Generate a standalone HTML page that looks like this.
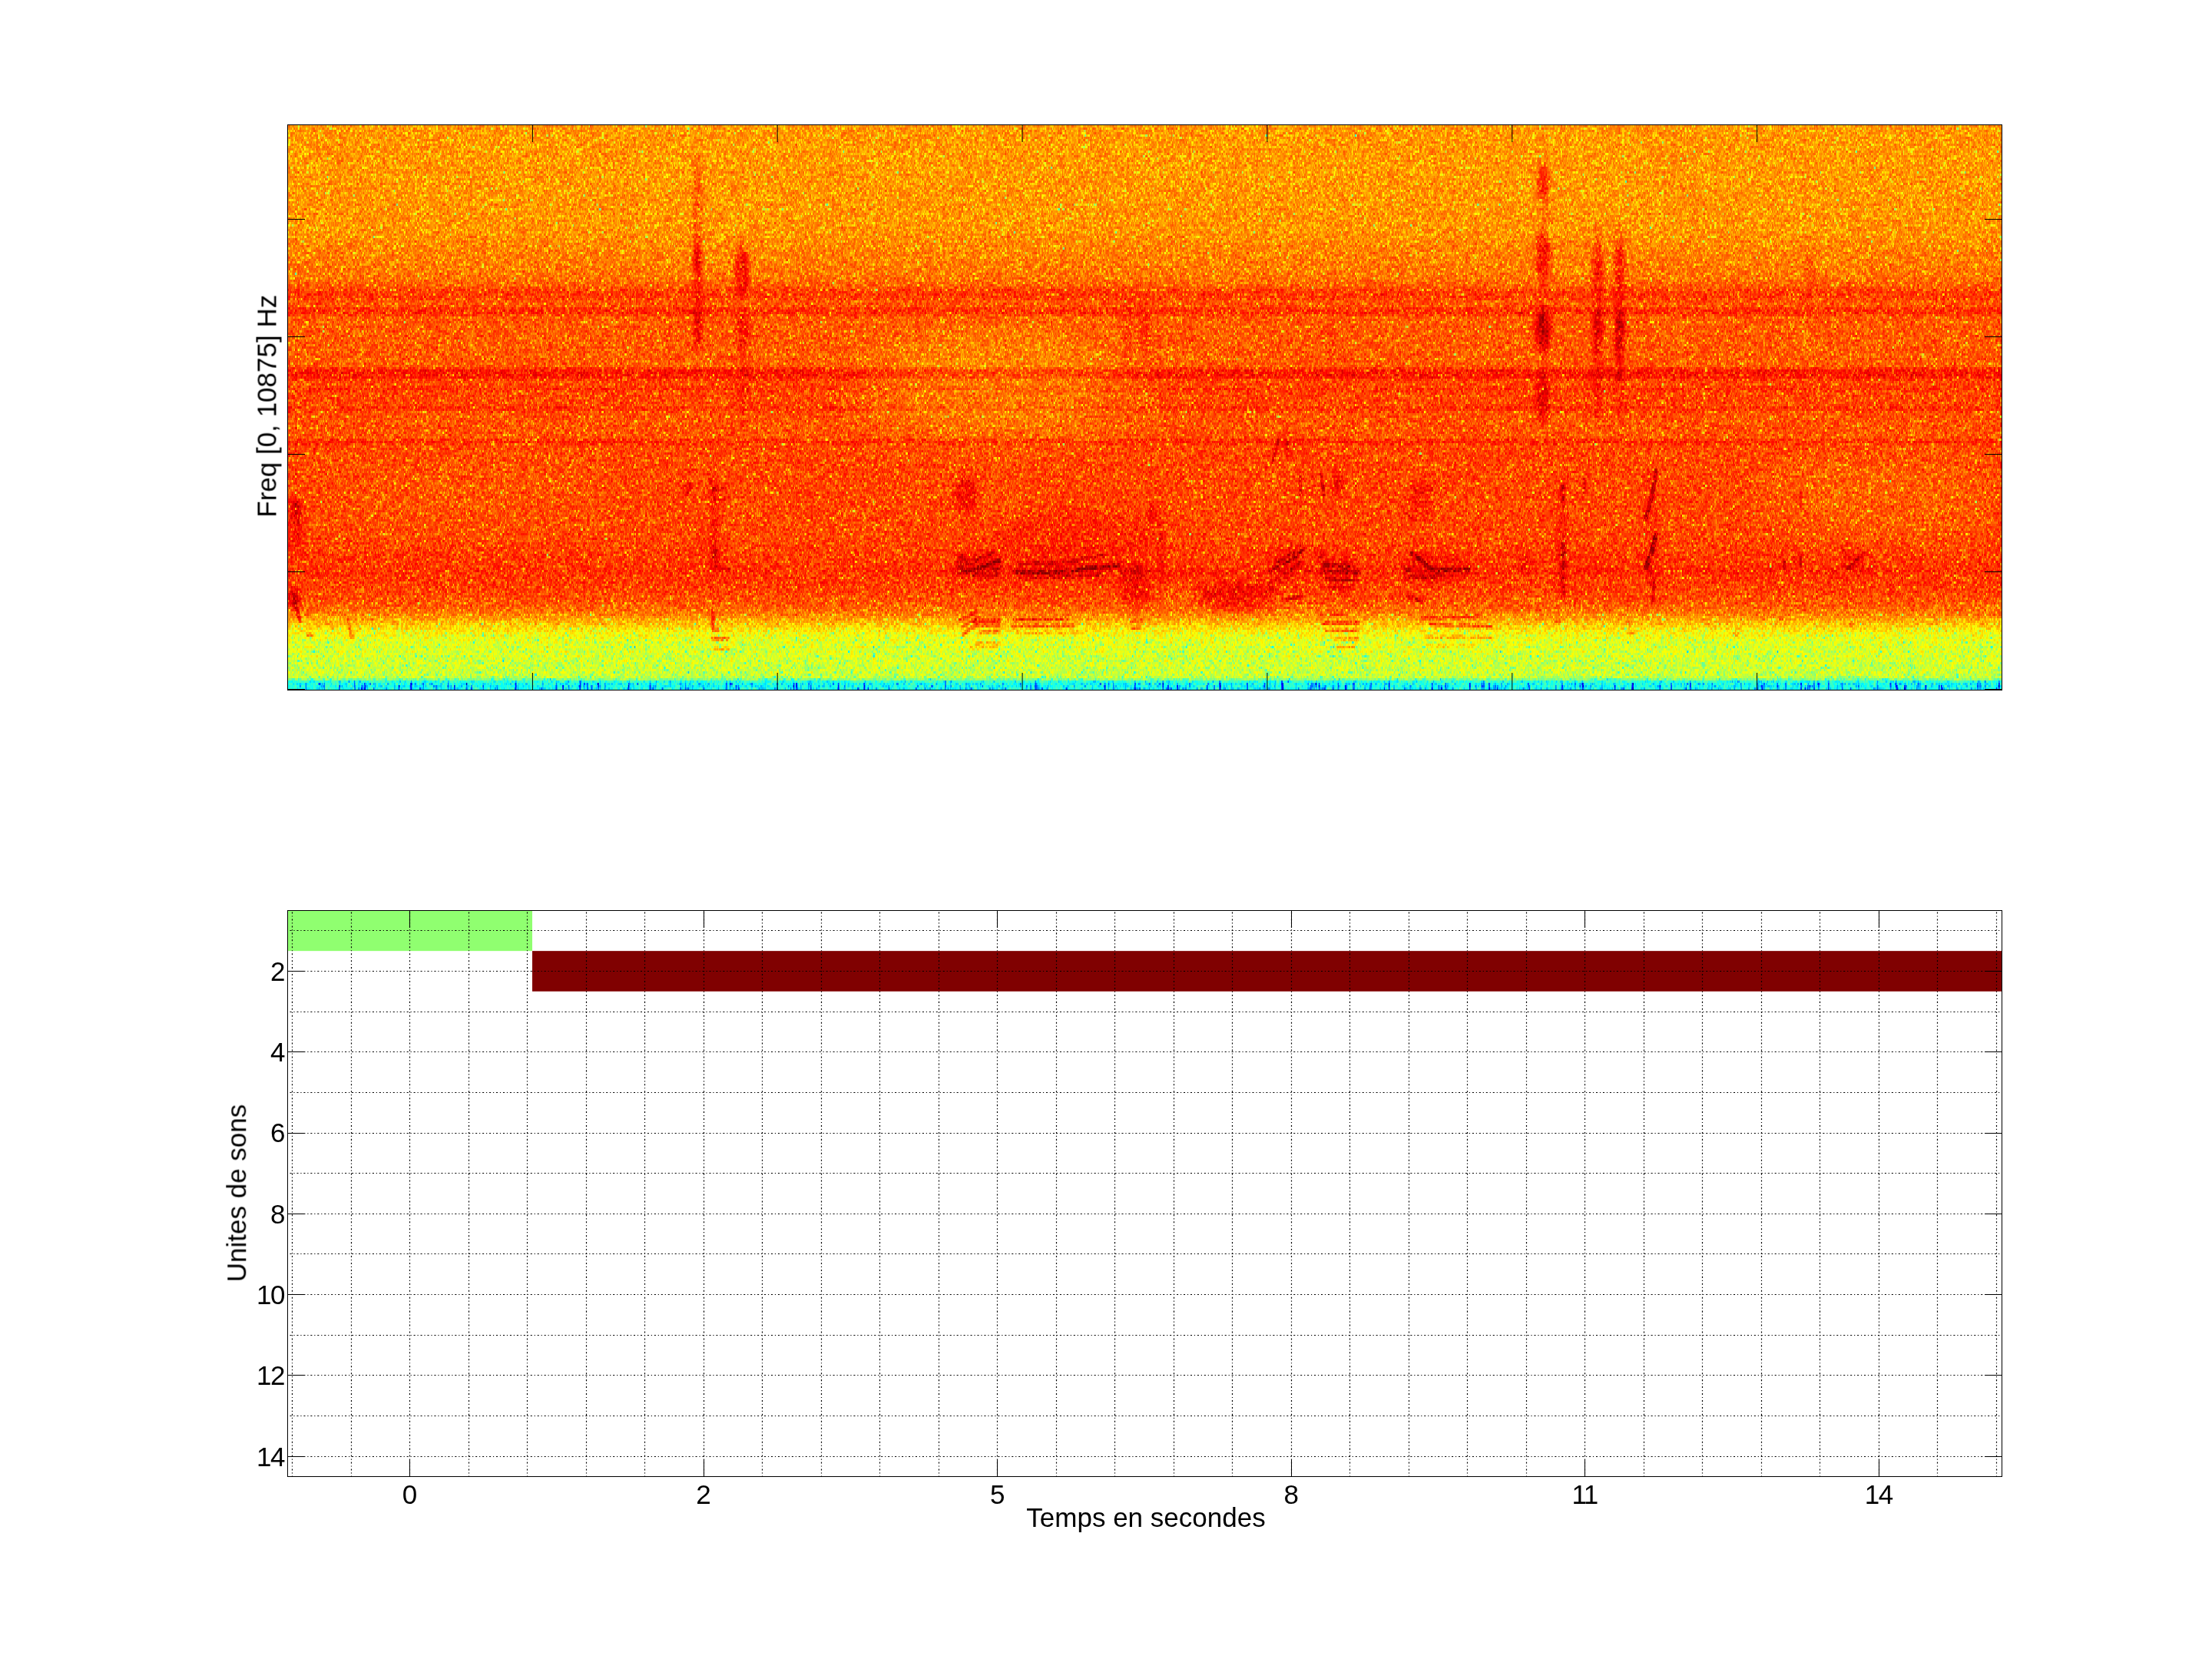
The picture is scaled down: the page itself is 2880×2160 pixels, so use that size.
<!DOCTYPE html>
<html><head><meta charset="utf-8"><title>spectrogram</title>
<style>html,body{margin:0;padding:0;background:#fff;}body{width:2880px;height:2160px;overflow:hidden;position:relative;font-family:"Liberation Sans",sans-serif;}svg{position:absolute;left:0;top:0;display:block;}text{font-family:"Liberation Sans",sans-serif;fill:#000;}.tx{opacity:0.999;}</style>
</head><body>
<svg width="2880" height="2160" viewBox="0 0 2880 2160">
<defs>
<linearGradient id="vg" gradientUnits="userSpaceOnUse" x1="0" y1="0" x2="0" y2="1">
</linearGradient>
<linearGradient id="vprof" gradientUnits="userSpaceOnUse" x1="0" y1="162.5" x2="0" y2="898.5">
<stop offset="0.0000" stop-color="rgb(186,186,186)"/>
<stop offset="0.1875" stop-color="rgb(187,187,187)"/>
<stop offset="0.2147" stop-color="rgb(191,191,191)"/>
<stop offset="0.2690" stop-color="rgb(195,195,195)"/>
<stop offset="0.2853" stop-color="rgb(201,201,201)"/>
<stop offset="0.2948" stop-color="rgb(210,210,210)"/>
<stop offset="0.3071" stop-color="rgb(210,210,210)"/>
<stop offset="0.3098" stop-color="rgb(204,204,204)"/>
<stop offset="0.3220" stop-color="rgb(204,204,204)"/>
<stop offset="0.3247" stop-color="rgb(213,213,213)"/>
<stop offset="0.3356" stop-color="rgb(213,213,213)"/>
<stop offset="0.3383" stop-color="rgb(202,202,202)"/>
<stop offset="0.4293" stop-color="rgb(202,202,202)"/>
<stop offset="0.4321" stop-color="rgb(219,219,219)"/>
<stop offset="0.4484" stop-color="rgb(219,219,219)"/>
<stop offset="0.4511" stop-color="rgb(207,207,207)"/>
<stop offset="0.4633" stop-color="rgb(207,207,207)"/>
<stop offset="0.4647" stop-color="rgb(212,212,212)"/>
<stop offset="0.4701" stop-color="rgb(212,212,212)"/>
<stop offset="0.4715" stop-color="rgb(207,207,207)"/>
<stop offset="0.4973" stop-color="rgb(207,207,207)"/>
<stop offset="0.4986" stop-color="rgb(212,212,212)"/>
<stop offset="0.5054" stop-color="rgb(212,212,212)"/>
<stop offset="0.5068" stop-color="rgb(204,204,204)"/>
<stop offset="0.5557" stop-color="rgb(204,204,204)"/>
<stop offset="0.5571" stop-color="rgb(215,215,215)"/>
<stop offset="0.5639" stop-color="rgb(215,215,215)"/>
<stop offset="0.5652" stop-color="rgb(207,207,207)"/>
<stop offset="0.7310" stop-color="rgb(207,207,207)"/>
<stop offset="0.7609" stop-color="rgb(210,210,210)"/>
<stop offset="0.7812" stop-color="rgb(211,211,211)"/>
<stop offset="0.7840" stop-color="rgb(212,212,212)"/>
<stop offset="0.7948" stop-color="rgb(212,212,212)"/>
<stop offset="0.7976" stop-color="rgb(211,211,211)"/>
<stop offset="0.8193" stop-color="rgb(209,209,209)"/>
<stop offset="0.8397" stop-color="rgb(205,205,205)"/>
<stop offset="0.8533" stop-color="rgb(201,201,201)"/>
<stop offset="0.8628" stop-color="rgb(195,195,195)"/>
<stop offset="0.8723" stop-color="rgb(186,186,186)"/>
<stop offset="0.8818" stop-color="rgb(176,176,176)"/>
<stop offset="0.8913" stop-color="rgb(167,167,167)"/>
<stop offset="0.9008" stop-color="rgb(159,159,159)"/>
<stop offset="0.9144" stop-color="rgb(153,153,153)"/>
<stop offset="0.9484" stop-color="rgb(149,149,149)"/>
<stop offset="0.9755" stop-color="rgb(147,147,147)"/>
<stop offset="0.9796" stop-color="rgb(140,140,140)"/>
<stop offset="0.9837" stop-color="rgb(112,112,112)"/>
<stop offset="0.9864" stop-color="rgb(103,103,103)"/>
<stop offset="1.0000" stop-color="rgb(102,102,102)"/>
</linearGradient>
<filter id="bl8" x="-50%" y="-50%" width="200%" height="200%"><feGaussianBlur stdDeviation="6 10"/></filter>
<filter id="bl30" x="-50%" y="-100%" width="200%" height="300%"><feGaussianBlur stdDeviation="40 25"/></filter>
<filter id="bl1" x="-50%" y="-50%" width="200%" height="200%"><feGaussianBlur stdDeviation="1.2"/></filter>
<filter id="bl3" x="-50%" y="-50%" width="200%" height="200%"><feGaussianBlur stdDeviation="3 5"/></filter>
<clipPath id="clipTop"><rect x="375" y="163" width="2231" height="735"/></clipPath>
<filter id="jet" filterUnits="userSpaceOnUse" x="369" y="157" width="2243" height="747" color-interpolation-filters="sRGB">
<feTurbulence type="fractalNoise" baseFrequency="0.713 0.837" numOctaves="1" seed="5" result="n0"/>
<feColorMatrix in="n0" type="matrix" values="1 0 0 0 0  1 0 0 0 0  1 0 0 0 0  0 0 0 0 1" result="n"/>
<feFlood flood-color="#fff" x="375" y="164" width="2" height="1" result="d1"/>
<feFlood flood-color="#fff" x="378" y="164" width="1" height="1" result="d2"/>
<feMerge x="375" y="163" width="4" height="3" result="ca"><feMergeNode in="d1"/><feMergeNode in="d2"/></feMerge>
<feTile in="ca" result="maskA"/>
<feFlood flood-color="#fff" x="376" y="164" width="1" height="1" result="d3"/>
<feOffset in="d3" dx="0" dy="0" x="375" y="163" width="4" height="3" result="cb"/>
<feTile in="cb" result="maskB"/>
<feComposite in="n" in2="maskA" operator="in" result="sA"/>
<feComposite in="n" in2="maskB" operator="in" result="sB"/>
<feMorphology in="sA" operator="dilate" radius="0 1" result="bA"/>
<feMorphology in="sB" operator="dilate" radius="0 1" result="bB0"/>
<feOffset in="bB0" dx="1" dy="0" result="bB"/>
<feMerge result="blk0"><feMergeNode in="bB"/><feMergeNode in="bA"/></feMerge>
<feTurbulence type="fractalNoise" baseFrequency="0.737 0.811" numOctaves="1" seed="11" result="m0"/>
<feColorMatrix in="m0" type="matrix" values="1 0 0 0 0  1 0 0 0 0  1 0 0 0 0  0 0 0 0 1" result="m"/>
<feFlood flood-color="#fff" x="376" y="164" width="1" height="1" result="d4"/>
<feOffset in="d4" dx="0" dy="0" x="375" y="163" width="3" height="3" result="cc"/>
<feTile in="cc" result="maskC"/>
<feComposite in="m" in2="maskC" operator="in" result="sC"/>
<feMorphology in="sC" operator="dilate" radius="1 1" result="bC"/>
<feComposite in="blk0" in2="bC" operator="arithmetic" k1="0" k2="0.705" k3="0.705" k4="-0.2050" result="blk"/>
<feComponentTransfer in="blk" result="nz"><feFuncR type="table" tableValues="0.000 0.000 0.000 0.000 0.000 0.000 0.031 0.103 0.156 0.217 0.261 0.301 0.329 0.359 0.388 0.410 0.431 0.453 0.468 0.486 0.499 0.513 0.527 0.538 0.549 0.560 0.569 0.579 0.588 0.595 0.604 0.613 0.621 0.630 0.639 0.651 0.653 0.653 0.653 0.653 0.653"/><feFuncG type="table" tableValues="0.000 0.000 0.000 0.000 0.000 0.000 0.031 0.103 0.156 0.217 0.261 0.301 0.329 0.359 0.388 0.410 0.431 0.453 0.468 0.486 0.499 0.513 0.527 0.538 0.549 0.560 0.569 0.579 0.588 0.595 0.604 0.613 0.621 0.630 0.639 0.651 0.653 0.653 0.653 0.653 0.653"/><feFuncB type="table" tableValues="0.000 0.000 0.000 0.000 0.000 0.000 0.031 0.103 0.156 0.217 0.261 0.301 0.329 0.359 0.388 0.410 0.431 0.453 0.468 0.486 0.499 0.513 0.527 0.538 0.549 0.560 0.569 0.579 0.588 0.595 0.604 0.613 0.621 0.630 0.639 0.651 0.653 0.653 0.653 0.653 0.653"/></feComponentTransfer>
<feFlood flood-color="#fff" x="369" y="164" width="2243" height="1" result="d5"/>
<feOffset in="d5" dx="0" dy="0" x="369" y="163" width="2243" height="3" result="cr"/>
<feTile in="cr" result="maskR"/>
<feGaussianBlur in="SourceGraphic" stdDeviation="0 0.8" result="sg"/>
<feComposite in="sg" in2="maskR" operator="in" result="sR"/>
<feMorphology in="sR" operator="dilate" radius="0 1" result="src"/>
<feComposite in="src" in2="nz" operator="arithmetic" k1="0" k2="1" k3="0.62" k4="-0.31" result="v"/>
<feComponentTransfer in="v">
<feFuncR type="table" tableValues="0 0 0 0 0.5 1 1 1 0.5"/>
<feFuncG type="table" tableValues="0 0 0.5 1 1 1 0.5 0 0"/>
<feFuncB type="table" tableValues="0.5 1 1 1 0.5 0 0 0 0"/>
<feFuncA type="linear" slope="0" intercept="1"/>
</feComponentTransfer>
</filter>
</defs>
<rect x="0" y="0" width="2880" height="2160" fill="#fff"/>
<g clip-path="url(#clipTop)"><g filter="url(#jet)">
<rect x="364.5" y="152.5" width="2252.0" height="756.0" fill="url(#vprof)"/>
<ellipse cx="1300" cy="500" rx="170" ry="70" fill="#000" fill-opacity="0.06" filter="url(#bl30)"/>
<ellipse cx="2450" cy="645" rx="150" ry="50" fill="#000" fill-opacity="0.035" filter="url(#bl30)"/>
<ellipse cx="600" cy="640" rx="180" ry="45" fill="#000" fill-opacity="0.02" filter="url(#bl30)"/>
<rect x="1230" y="738" width="1250" height="10" fill="#fff" fill-opacity="0.08"/>
<ellipse cx="908" cy="330" rx="5" ry="130" fill="#fff" fill-opacity="0.3" filter="url(#bl3)"/>
<ellipse cx="908" cy="338" rx="4" ry="22" fill="#fff" fill-opacity="0.45" filter="url(#bl3)"/>
<ellipse cx="908" cy="428" rx="4" ry="24" fill="#fff" fill-opacity="0.45" filter="url(#bl3)"/>
<ellipse cx="966" cy="352" rx="10" ry="32" fill="#fff" fill-opacity="0.42" filter="url(#bl3)"/>
<ellipse cx="966" cy="430" rx="9" ry="26" fill="#fff" fill-opacity="0.35" filter="url(#bl3)"/>
<ellipse cx="968" cy="500" rx="8" ry="60" fill="#fff" fill-opacity="0.15" filter="url(#bl3)"/>
<ellipse cx="1468" cy="430" rx="6" ry="45" fill="#fff" fill-opacity="0.18" filter="url(#bl3)"/>
<ellipse cx="1490" cy="430" rx="5" ry="40" fill="#fff" fill-opacity="0.2" filter="url(#bl3)"/>
<ellipse cx="2010" cy="370" rx="5" ry="190" fill="#fff" fill-opacity="0.14" filter="url(#bl3)"/>
<ellipse cx="2009" cy="238" rx="9" ry="24" fill="#fff" fill-opacity="0.3" filter="url(#bl3)"/>
<ellipse cx="2009" cy="332" rx="10" ry="30" fill="#fff" fill-opacity="0.38" filter="url(#bl3)"/>
<ellipse cx="2009" cy="430" rx="11" ry="28" fill="#fff" fill-opacity="0.6" filter="url(#bl3)"/>
<ellipse cx="2009" cy="520" rx="9" ry="30" fill="#fff" fill-opacity="0.4" filter="url(#bl3)"/>
<ellipse cx="2080" cy="420" rx="7" ry="130" fill="#fff" fill-opacity="0.25" filter="url(#bl3)"/>
<ellipse cx="2080" cy="345" rx="6" ry="25" fill="#fff" fill-opacity="0.3" filter="url(#bl3)"/>
<ellipse cx="2080" cy="432" rx="6" ry="28" fill="#fff" fill-opacity="0.35" filter="url(#bl3)"/>
<ellipse cx="2109" cy="420" rx="6" ry="130" fill="#fff" fill-opacity="0.28" filter="url(#bl3)"/>
<ellipse cx="2109" cy="345" rx="5" ry="28" fill="#fff" fill-opacity="0.35" filter="url(#bl3)"/>
<ellipse cx="2109" cy="432" rx="6" ry="30" fill="#fff" fill-opacity="0.5" filter="url(#bl3)"/>
<ellipse cx="2356" cy="355" rx="5" ry="35" fill="#fff" fill-opacity="0.15" filter="url(#bl3)"/>
<ellipse cx="1732" cy="438" rx="6" ry="25" fill="#fff" fill-opacity="0.15" filter="url(#bl3)"/>
<ellipse cx="386" cy="685" rx="9" ry="42" fill="#fff" fill-opacity="0.25" filter="url(#bl3)"/>
<ellipse cx="385" cy="665" rx="7" ry="14" fill="#fff" fill-opacity="0.4" filter="url(#bl3)"/>
<ellipse cx="383" cy="778" rx="7" ry="13" fill="#fff" fill-opacity="0.55" filter="url(#bl3)"/>
<path d="M384 786L391 808" stroke="#fff" stroke-opacity="0.5" stroke-width="5" fill="none" stroke-linecap="round"/>
<ellipse cx="403" cy="826.5" rx="5" ry="3" fill="#fff" fill-opacity="0.4" filter="url(#bl1)"/>
<ellipse cx="458" cy="828" rx="4" ry="3" fill="#fff" fill-opacity="0.4" filter="url(#bl1)"/>
<path d="M453 805L457 826" stroke="#fff" stroke-opacity="0.3" stroke-width="3.5" fill="none" stroke-linecap="round"/>
<ellipse cx="896" cy="635" rx="4" ry="13" fill="#fff" fill-opacity="0.45" filter="url(#bl3)"/>
<ellipse cx="928" cy="636" rx="4.5" ry="18" fill="#fff" fill-opacity="0.5" filter="url(#bl3)"/>
<path d="M930 637L944 637" stroke="#fff" stroke-opacity="0.4" stroke-width="4" fill="none" stroke-linecap="round"/>
<path d="M930 650L944 650" stroke="#fff" stroke-opacity="0.4" stroke-width="4" fill="none" stroke-linecap="round"/>
<ellipse cx="930" cy="705" rx="4" ry="55" fill="#fff" fill-opacity="0.3" filter="url(#bl3)"/>
<ellipse cx="930" cy="722" rx="4.5" ry="12" fill="#fff" fill-opacity="0.35" filter="url(#bl3)"/>
<path d="M930 741L950 741" stroke="#fff" stroke-opacity="0.4" stroke-width="4" fill="none" stroke-linecap="round"/>
<ellipse cx="928" cy="805" rx="3" ry="14" fill="#fff" fill-opacity="0.45" filter="url(#bl1)"/>
<path d="M927 820L935 820" stroke="#fff" stroke-opacity="0.45" stroke-width="4" fill="none" stroke-linecap="round"/>
<path d="M928 831.5L948 831.5" stroke="#fff" stroke-opacity="0.5" stroke-width="4.5" fill="none" stroke-linecap="round"/>
<path d="M930 844.5L948 844.5" stroke="#fff" stroke-opacity="0.3" stroke-width="4.5" fill="none" stroke-linecap="round"/>
<ellipse cx="1258" cy="643" rx="14" ry="22" fill="#fff" fill-opacity="0.35" filter="url(#bl3)"/>
<ellipse cx="1275" cy="737" rx="30" ry="20" fill="#fff" fill-opacity="0.2" filter="url(#bl3)"/>
<ellipse cx="1400" cy="700" rx="110" ry="35" fill="#fff" fill-opacity="0.15" filter="url(#bl8)"/>
<ellipse cx="1390" cy="740" rx="75" ry="9" fill="#fff" fill-opacity="0.2" filter="url(#bl3)"/>
<ellipse cx="1500" cy="670" rx="6" ry="16" fill="#fff" fill-opacity="0.3" filter="url(#bl3)"/>
<ellipse cx="1610" cy="775" rx="55" ry="18" fill="#fff" fill-opacity="0.35" filter="url(#bl8)"/>
<ellipse cx="1480" cy="770" rx="20" ry="22" fill="#fff" fill-opacity="0.3" filter="url(#bl8)"/>
<ellipse cx="1676" cy="580" rx="5" ry="18" fill="#fff" fill-opacity="0.35" filter="url(#bl3)"/>
<ellipse cx="1676" cy="735" rx="22" ry="24" fill="#fff" fill-opacity="0.2" filter="url(#bl3)"/>
<ellipse cx="1742" cy="630" rx="6" ry="18" fill="#fff" fill-opacity="0.35" filter="url(#bl3)"/>
<ellipse cx="1745" cy="745" rx="26" ry="22" fill="#fff" fill-opacity="0.2" filter="url(#bl3)"/>
<ellipse cx="1850" cy="650" rx="16" ry="30" fill="#fff" fill-opacity="0.18" filter="url(#bl3)"/>
<ellipse cx="1868" cy="740" rx="45" ry="22" fill="#fff" fill-opacity="0.2" filter="url(#bl3)"/>
<ellipse cx="2034" cy="705" rx="6" ry="80" fill="#fff" fill-opacity="0.25" filter="url(#bl3)"/>
<ellipse cx="2150" cy="690" rx="8" ry="85" fill="#fff" fill-opacity="0.15" filter="url(#bl3)"/>
<ellipse cx="2340" cy="730" rx="6" ry="14" fill="#fff" fill-opacity="0.15" filter="url(#bl3)"/>
<ellipse cx="2412" cy="730" rx="15" ry="18" fill="#fff" fill-opacity="0.15" filter="url(#bl3)"/>
<path d="M1262 733L1294 720" stroke="#fff" stroke-opacity="0.5" stroke-width="4.2" fill="none" stroke-linecap="round"/>
<path d="M1259 745L1301 730" stroke="#fff" stroke-opacity="0.8" stroke-width="5.2" fill="none" stroke-linecap="round"/>
<path d="M1267 748.6L1301 738.5" stroke="#fff" stroke-opacity="0.6" stroke-width="4.2" fill="none" stroke-linecap="round"/>
<path d="M1284 752L1301 748" stroke="#fff" stroke-opacity="0.5" stroke-width="4.2" fill="none" stroke-linecap="round"/>
<ellipse cx="1252" cy="736" rx="8" ry="16" fill="#fff" fill-opacity="0.45" filter="url(#bl3)"/>
<path d="M1324.6 734L1388.7 731.7L1437.6 723" stroke="#fff" stroke-opacity="0.45" stroke-width="4.0" fill="none" stroke-linecap="round"/>
<path d="M1321 745L1372 746L1427.5 738.5L1456 736.8" stroke="#fff" stroke-opacity="0.8" stroke-width="5.5" fill="none" stroke-linecap="round"/>
<path d="M1328 753L1439 748.6" stroke="#fff" stroke-opacity="0.45" stroke-width="4.2" fill="none" stroke-linecap="round"/>
<ellipse cx="1473" cy="746" rx="17" ry="13" fill="#fff" fill-opacity="0.35" filter="url(#bl3)"/>
<ellipse cx="1513" cy="710" rx="4" ry="48" fill="#fff" fill-opacity="0.3" filter="url(#bl3)"/>
<path d="M1250 807.6L1270.6 797.5" stroke="#fff" stroke-opacity="0.42" stroke-width="4.2" fill="none" stroke-linecap="round"/>
<path d="M1253 816L1275 804" stroke="#fff" stroke-opacity="0.42" stroke-width="4.2" fill="none" stroke-linecap="round"/>
<path d="M1254 826L1271 813" stroke="#fff" stroke-opacity="0.38" stroke-width="4.2" fill="none" stroke-linecap="round"/>
<path d="M1269 808.5L1301 808" stroke="#fff" stroke-opacity="0.62" stroke-width="4.6" fill="none" stroke-linecap="round"/>
<path d="M1271 814.5L1301 814" stroke="#fff" stroke-opacity="0.46" stroke-width="4.2" fill="none" stroke-linecap="round"/>
<path d="M1276 823L1301 822.5" stroke="#fff" stroke-opacity="0.38" stroke-width="4.2" fill="none" stroke-linecap="round"/>
<path d="M1271 838L1301 837.5" stroke="#fff" stroke-opacity="0.3" stroke-width="4.2" fill="none" stroke-linecap="round"/>
<path d="M1264 843.5L1299 843" stroke="#fff" stroke-opacity="0.26" stroke-width="4.2" fill="none" stroke-linecap="round"/>
<path d="M1321 806.8L1389 806" stroke="#fff" stroke-opacity="0.5" stroke-width="4.6" fill="none" stroke-linecap="round"/>
<path d="M1318 815L1397 814.5" stroke="#fff" stroke-opacity="0.42" stroke-width="4.6" fill="none" stroke-linecap="round"/>
<path d="M1325 824L1405 823.5" stroke="#fff" stroke-opacity="0.2" stroke-width="4.2" fill="none" stroke-linecap="round"/>
<path d="M1473 809L1486.6 808.5" stroke="#fff" stroke-opacity="0.42" stroke-width="4.2" fill="none" stroke-linecap="round"/>
<path d="M1475 818L1485 817.5" stroke="#fff" stroke-opacity="0.34" stroke-width="4.2" fill="none" stroke-linecap="round"/>
<path d="M1666 570L1657 601" stroke="#fff" stroke-opacity="0.45" stroke-width="4.0" fill="none" stroke-linecap="round"/>
<path d="M1693 621L1693 646" stroke="#fff" stroke-opacity="0.4" stroke-width="4.0" fill="none" stroke-linecap="round"/>
<path d="M1720 617L1724 646" stroke="#fff" stroke-opacity="0.45" stroke-width="4.0" fill="none" stroke-linecap="round"/>
<path d="M1653.5 743.6Q1682 732 1697 714.7" stroke="#fff" stroke-opacity="0.7" stroke-width="4.5" fill="none" stroke-linecap="round"/>
<path d="M1662.5 732.7Q1684 722 1695 707" stroke="#fff" stroke-opacity="0.5" stroke-width="4.0" fill="none" stroke-linecap="round"/>
<path d="M1650 760Q1675 750 1691.5 732.7" stroke="#fff" stroke-opacity="0.45" stroke-width="4.0" fill="none" stroke-linecap="round"/>
<path d="M1671.6 780.7L1695 776" stroke="#fff" stroke-opacity="0.55" stroke-width="4.6" fill="none" stroke-linecap="round"/>
<path d="M1650 765L1660 767" stroke="#fff" stroke-opacity="0.4" stroke-width="4.2" fill="none" stroke-linecap="round"/>
<ellipse cx="1721" cy="722" rx="5" ry="9" fill="#fff" fill-opacity="0.5" filter="url(#bl3)"/>
<path d="M1724 734.6L1756.6 738.2" stroke="#fff" stroke-opacity="0.75" stroke-width="5.2" fill="none" stroke-linecap="round"/>
<path d="M1725.8 744.5L1769 745.4" stroke="#fff" stroke-opacity="0.6" stroke-width="4.6" fill="none" stroke-linecap="round"/>
<path d="M1727 754.4L1767 756" stroke="#fff" stroke-opacity="0.5" stroke-width="4.6" fill="none" stroke-linecap="round"/>
<path d="M1731 765.3L1757 766" stroke="#fff" stroke-opacity="0.4" stroke-width="4.2" fill="none" stroke-linecap="round"/>
<path d="M1720 800.6L1747.5 800" stroke="#fff" stroke-opacity="0.38" stroke-width="4.2" fill="none" stroke-linecap="round"/>
<path d="M1724 811.4L1769 810.5" stroke="#fff" stroke-opacity="0.5" stroke-width="4.6" fill="none" stroke-linecap="round"/>
<path d="M1727 821.4L1769 820.5" stroke="#fff" stroke-opacity="0.42" stroke-width="4.4" fill="none" stroke-linecap="round"/>
<path d="M1738 832L1767 831.5" stroke="#fff" stroke-opacity="0.34" stroke-width="4.2" fill="none" stroke-linecap="round"/>
<path d="M1742 843L1764 842.5" stroke="#fff" stroke-opacity="0.26" stroke-width="4.2" fill="none" stroke-linecap="round"/>
<path d="M1838 720L1865 741.8L1912 740.9" stroke="#fff" stroke-opacity="0.75" stroke-width="5.5" fill="none" stroke-linecap="round"/>
<ellipse cx="1832" cy="742" rx="6" ry="4" fill="#fff" fill-opacity="0.6" filter="url(#bl1)"/>
<path d="M1829 752.6L1868.7 750.8" stroke="#fff" stroke-opacity="0.55" stroke-width="4.6" fill="none" stroke-linecap="round"/>
<path d="M1839.8 633.3L1850.6 646" stroke="#fff" stroke-opacity="0.4" stroke-width="3.0" fill="none" stroke-linecap="round"/>
<path d="M1829 667.6L1843 678.5" stroke="#fff" stroke-opacity="0.35" stroke-width="4.2" fill="none" stroke-linecap="round"/>
<path d="M1832.5 776L1850.6 783.4" stroke="#fff" stroke-opacity="0.6" stroke-width="4.6" fill="none" stroke-linecap="round"/>
<path d="M1846 729L1880 752" stroke="#fff" stroke-opacity="0.35" stroke-width="4.2" fill="none" stroke-linecap="round"/>
<path d="M1852 804.5L1925 803" stroke="#fff" stroke-opacity="0.38" stroke-width="4.4" fill="none" stroke-linecap="round"/>
<path d="M1863 813L1941 816" stroke="#fff" stroke-opacity="0.42" stroke-width="4.6" fill="none" stroke-linecap="round"/>
<path d="M1856 829.5L1944 830" stroke="#fff" stroke-opacity="0.26" stroke-width="4.2" fill="none" stroke-linecap="round"/>
<path d="M1856 841L1919 841" stroke="#fff" stroke-opacity="0.19" stroke-width="4.2" fill="none" stroke-linecap="round"/>
<ellipse cx="2035" cy="635" rx="3.5" ry="5" fill="#fff" fill-opacity="0.5" filter="url(#bl1)"/>
<ellipse cx="2035" cy="648" rx="3.5" ry="5" fill="#fff" fill-opacity="0.45" filter="url(#bl1)"/>
<ellipse cx="2035" cy="711" rx="3.5" ry="5" fill="#fff" fill-opacity="0.5" filter="url(#bl1)"/>
<ellipse cx="2035" cy="722" rx="3.5" ry="5" fill="#fff" fill-opacity="0.5" filter="url(#bl1)"/>
<ellipse cx="2035" cy="735" rx="3.5" ry="5" fill="#fff" fill-opacity="0.5" filter="url(#bl1)"/>
<ellipse cx="2035" cy="752" rx="3.5" ry="5" fill="#fff" fill-opacity="0.4" filter="url(#bl1)"/>
<ellipse cx="2035" cy="770" rx="3.5" ry="5" fill="#fff" fill-opacity="0.4" filter="url(#bl1)"/>
<path d="M2062.5 624L2062.5 642" stroke="#fff" stroke-opacity="0.4" stroke-width="4.0" fill="none" stroke-linecap="round"/>
<path d="M2156 613Q2154 640 2143 674" stroke="#fff" stroke-opacity="0.5" stroke-width="5.5" fill="none" stroke-linecap="round"/>
<path d="M2156 696Q2153 715 2143 739" stroke="#fff" stroke-opacity="0.7" stroke-width="6.0" fill="none" stroke-linecap="round"/>
<path d="M2154 757L2152 785" stroke="#fff" stroke-opacity="0.45" stroke-width="4.0" fill="none" stroke-linecap="round"/>
<path d="M2344.6 641.6L2344.6 661" stroke="#fff" stroke-opacity="0.4" stroke-width="3.5" fill="none" stroke-linecap="round"/>
<path d="M2344.6 722L2344.6 739" stroke="#fff" stroke-opacity="0.5" stroke-width="3.5" fill="none" stroke-linecap="round"/>
<path d="M2323 728L2323 741" stroke="#fff" stroke-opacity="0.45" stroke-width="3.5" fill="none" stroke-linecap="round"/>
<path d="M2405 741L2427 720" stroke="#fff" stroke-opacity="0.55" stroke-width="5.2" fill="none" stroke-linecap="round"/>
<path d="M2398 712L2402 722" stroke="#fff" stroke-opacity="0.4" stroke-width="3.5" fill="none" stroke-linecap="round"/>
<ellipse cx="1986" cy="733" rx="7" ry="11" fill="#fff" fill-opacity="0.4" filter="url(#bl3)"/>
<ellipse cx="2028" cy="809" rx="5" ry="3.5" fill="#fff" fill-opacity="0.28" filter="url(#bl1)"/>
<ellipse cx="2121" cy="812" rx="5" ry="3.5" fill="#fff" fill-opacity="0.28" filter="url(#bl1)"/>
<ellipse cx="2123" cy="824" rx="5" ry="3.5" fill="#fff" fill-opacity="0.28" filter="url(#bl1)"/>
<ellipse cx="2318" cy="806" rx="5" ry="3.5" fill="#fff" fill-opacity="0.28" filter="url(#bl1)"/>
<ellipse cx="2412" cy="813" rx="5" ry="3.5" fill="#fff" fill-opacity="0.28" filter="url(#bl1)"/>
<ellipse cx="2260" cy="826" rx="5" ry="3.5" fill="#fff" fill-opacity="0.28" filter="url(#bl1)"/>
<path d="M901.6 893V898M1443.4 887V898M419.2 891V898M2160.8 889V898M1535.9 891V898M2114.6 891V898M853.3 891V898M2160.8 889V898M1066.3 891V898M568.5 891V898M1873.6 889V898M771.6 891V898M574.3 891V898M391.1 891V898M2267.0 889V898M1298.5 891V898M1336.7 889V898M1055.7 887V898M478.3 891V898M1532.6 893V898M1938.7 889V898M523.2 893V898M991.4 893V898M2041.4 889V898M2392.5 887V898M1954.9 889V898M647.5 891V898M1399.1 891V898M1930.7 891V898M415.6 891V898M2530.2 893V898M2296.7 887V898M1029.6 893V898M1026.4 893V898M1710.9 891V898M1653.6 887V898M1389.6 891V898M2599.7 887V898M1355.1 893V898M2419.8 887V898M513.8 889V898M1703.6 887V898M1593.6 889V898M1092.1 887V898M2237.6 893V898M1828.7 893V898M825.2 893V898M1472.5 893V898M1364.5 893V898M2229.1 889V898M445.6 891V898M915.8 889V898M1305.6 889V898M1100.1 887V898M2585.0 887V898M1477.8 893V898M845.6 889V898M1125.9 893V898M2158.7 891V898M2192.9 889V898M1835.7 891V898M1130.3 893V898M540.9 889V898M474.4 889V898M2085.8 887V898M2316.1 893V898M1644.9 893V898M2444.2 887V898M846.2 887V898M1735.9 887V898M1258.0 889V898M1603.4 889V898M1873.1 893V898M2416.9 887V898M551.2 887V898M1465.6 889V898M467.3 887V898M1037.5 887V898M564.9 893V898M1225.4 893V898M896.4 893V898M587.2 891V898M1518.3 893V898M2288.8 887V898M1777.4 891V898M2449.3 893V898M638.6 889V898M1204.0 889V898M1951.7 893V898M2293.3 887V898M1960.2 891V898M644.8 893V898M2129.1 893V898M1549.2 889V898M1292.3 891V898M886.4 887V898M1884.8 891V898M1588.9 891V898M2464.9 893V898M1742.6 893V898M688.8 891V898M2574.5 889V898M1341.9 889V898M1881.8 889V898M1011.7 889V898M1660.0 887V898M546.9 889V898M1110.4 891V898M764.6 887V898M1543.9 891V898M2176.0 889V898M781.9 887V898M2071.1 889V898M1828.6 889V898M1753.5 891V898M2277.5 893V898M2340.6 893V898M1944.7 891V898M889.0 893V898M2380.7 893V898M2538.0 891V898M1352.8 887V898M935.6 893V898M1921.7 891V898M1276.8 887V898M723.2 893V898M2547.5 891V898M1722.1 887V898M2060.7 889V898M1802.7 887V898M706.8 887V898M1042.5 889V898M1262.7 891V898M416.3 889V898M2051.2 887V898M2492.8 887V898M978.8 891V898M1735.3 889V898M2006.6 893V898M2500.3 887V898M1624.3 887V898M1989.6 889V898M1496.2 889V898M2258.7 887V898M1213.8 891V898M1523.6 891V898M2297.2 889V898M1238.0 887V898M996.6 887V898M1053.2 887V898" stroke="#000" stroke-opacity="0.25" stroke-width="1.8" fill="none"/>
<path d="M724.5 887V898M892.6 887V898M1438.5 889V898M2350.5 893V898M1125.1 889V898M614.1 891V898M1055.8 893V898M1713.8 889V898M945.4 891V898M2124.9 891V898M2176.1 889V898M2367.7 887V898M1724.0 893V898M2578.0 887V898M770.2 893V898M1533.2 889V898M461.9 887V898M1125.5 889V898M1929.4 887V898M534.5 891V898M1763.3 887V898M398.4 889V898M850.5 891V898M2195.3 893V898M1785.4 887V898M760.7 887V898M2057.3 891V898M1624.0 889V898M1946.9 891V898M765.1 893V898M2353.9 891V898M2061.2 893V898M1091.6 889V898M946.1 887V898M442.1 891V898M1882.5 889V898M1742.4 887V898M2461.5 887V898M1939.0 889V898M2361.8 887V898M1815.1 893V898M1646.8 889V898M583.6 887V898M629.3 891V898M2314.3 889V898M2398.6 889V898M2380.9 887V898M2061.5 889V898M961.6 891V898M1783.6 891V898M2575.4 889V898M2060.4 887V898M2497.7 887V898M1876.9 893V898M607.6 889V898M1250.2 893V898M1581.1 893V898M2034.2 887V898M779.3 889V898M1036.9 889V898M2470.0 891V898M1231.0 887V898M2481.9 891V898M787.8 889V898M422.3 889V898M1037.3 891V898M2468.6 887V898M2495.9 893V898M740.3 893V898M1157.3 893V898M1932.2 887V898M2033.3 893V898M846.8 891V898M1708.2 887V898M1449.6 887V898M779.0 889V898M1713.8 887V898M1991.7 893V898M1349.9 889V898M1761.9 889V898M1725.1 893V898M2025.8 891V898M754.5 891V898M950.6 887V898M1588.8 889V898M1477.8 887V898M2345.2 889V898M2578.7 889V898M1706.6 891V898M2325.3 887V898" stroke="#000" stroke-opacity="0.45" stroke-width="1.8" fill="none"/>
<path d="M2126.2 889V898M1588.3 887V898M1033.6 889V898M1808.7 887V898M2356.2 893V898M475.4 891V898M535.7 887V898M2161.5 891V898M818.6 889V898M2200.8 887V898M2602.8 887V898M2507.5 893V898M519.6 891V898M1864.7 889V898M1514.2 887V898M1913.9 889V898M1348.3 887V898M2527.9 891V898M1521.0 891V898M671.6 887V898M1669.1 887V898M1717.6 889V898M471.3 893V898M2102.5 891V898M2524.8 891V898M1571.7 893V898M755.6 887V898M1670.3 889V898M958.4 893V898M2480.1 891V898M733.1 891V898M1949.6 893V898M1752.1 891V898M2294.5 891V898M591.9 891V898" stroke="#000" stroke-opacity="0.65" stroke-width="1.8" fill="none"/>
</g></g>
<rect x="374.5" y="162.5" width="2232.0" height="736.0" fill="none" stroke="#000" stroke-width="1"/>
<path d="M693.4 162.5v22.5M693.4 898.5v-22.5M1012.2 162.5v22.5M1012.2 898.5v-22.5M1331.1 162.5v22.5M1331.1 898.5v-22.5M1649.9 162.5v22.5M1649.9 898.5v-22.5M1968.8 162.5v22.5M1968.8 898.5v-22.5M2287.6 162.5v22.5M2287.6 898.5v-22.5M374.5 897.5h22.5M2606.5 897.5h-22.5M374.5 744.5h22.5M2606.5 744.5h-22.5M374.5 591.5h22.5M2606.5 591.5h-22.5M374.5 438.5h22.5M2606.5 438.5h-22.5M374.5 285.5h22.5M2606.5 285.5h-22.5" stroke="#000" stroke-width="1" fill="none"/>
<g class="tx">
<text transform="translate(359.5,528.7) rotate(-90)" text-anchor="middle" font-size="35">Freq [0, 10875] Hz</text>
<rect x="374.5" y="1185.5" width="318.5" height="52.64" fill="#90ff70"/>
<rect x="693" y="1238.14" width="1913.5" height="52.64" fill="#800000"/>
<path d="M380.5 1187.5V1922.5M457.5 1187.5V1922.5M533.5 1187.5V1922.5M610.5 1187.5V1922.5M686.5 1187.5V1922.5M763.5 1187.5V1922.5M839.5 1187.5V1922.5M916.5 1187.5V1922.5M992.5 1187.5V1922.5M1069.5 1187.5V1922.5M1145.5 1187.5V1922.5M1222.5 1187.5V1922.5M1298.5 1187.5V1922.5M1375.5 1187.5V1922.5M1451.5 1187.5V1922.5M1528.5 1187.5V1922.5M1604.5 1187.5V1922.5M1681.5 1187.5V1922.5M1757.5 1187.5V1922.5M1834.5 1187.5V1922.5M1910.5 1187.5V1922.5M1987.5 1187.5V1922.5M2063.5 1187.5V1922.5M2140.5 1187.5V1922.5M2216.5 1187.5V1922.5M2293.5 1187.5V1922.5M2369.5 1187.5V1922.5M2446.5 1187.5V1922.5M2522.5 1187.5V1922.5M2599.5 1187.5V1922.5" stroke="#000" stroke-width="1.2" stroke-dasharray="2.05 2.85 1.2 2.85" fill="none"/>
<path d="M377.5 1211.5H2606.5M377.5 1264.5H2606.5M377.5 1317.5H2606.5M377.5 1369.5H2606.5M377.5 1422.5H2606.5M377.5 1475.5H2606.5M377.5 1527.5H2606.5M377.5 1580.5H2606.5M377.5 1632.5H2606.5M377.5 1685.5H2606.5M377.5 1738.5H2606.5M377.5 1790.5H2606.5M377.5 1843.5H2606.5M377.5 1896.5H2606.5" stroke="#000" stroke-width="1.2" stroke-dasharray="2.05 2.85 1.2 2.85" fill="none"/>
<rect x="374.5" y="1185.5" width="2232.0" height="737.0" fill="none" stroke="#000" stroke-width="1"/>
<path d="M533.5 1185.5v22.5M533.5 1922.5v-22.5M916.5 1185.5v22.5M916.5 1922.5v-22.5M1298.5 1185.5v22.5M1298.5 1922.5v-22.5M1681.5 1185.5v22.5M1681.5 1922.5v-22.5M2063.5 1185.5v22.5M2063.5 1922.5v-22.5M2446.5 1185.5v22.5M2446.5 1922.5v-22.5M374.5 1264.5h22.5M2606.5 1264.5h-22.5M374.5 1369.5h22.5M2606.5 1369.5h-22.5M374.5 1475.5h22.5M2606.5 1475.5h-22.5M374.5 1580.5h22.5M2606.5 1580.5h-22.5M374.5 1685.5h22.5M2606.5 1685.5h-22.5M374.5 1790.5h22.5M2606.5 1790.5h-22.5M374.5 1896.5h22.5M2606.5 1896.5h-22.5" stroke="#000" stroke-width="1" fill="none"/>
<text x="371.5" y="1276.9" text-anchor="end" font-size="35">2</text>
<text x="371.5" y="1382.2" text-anchor="end" font-size="35">4</text>
<text x="371.5" y="1487.4" text-anchor="end" font-size="35">6</text>
<text x="371.5" y="1592.7" text-anchor="end" font-size="35">8</text>
<text x="370.0" y="1698.0" text-anchor="end" font-size="35" letter-spacing="-1.5">10</text>
<text x="370.0" y="1803.3" text-anchor="end" font-size="35" letter-spacing="-1.5">12</text>
<text x="370.0" y="1908.6" text-anchor="end" font-size="35" letter-spacing="-1.5">14</text>
<text x="533.5" y="1957.8" text-anchor="middle" font-size="35">0</text>
<text x="916.1" y="1957.8" text-anchor="middle" font-size="35">2</text>
<text x="1298.7" y="1957.8" text-anchor="middle" font-size="35">5</text>
<text x="1681.3" y="1957.8" text-anchor="middle" font-size="35">8</text>
<text x="2063.1" y="1957.8" text-anchor="middle" font-size="35" letter-spacing="-1.5">11</text>
<text x="2445.7" y="1957.8" text-anchor="middle" font-size="35" letter-spacing="-1.5">14</text>
<text x="1492" y="1988" text-anchor="middle" font-size="35">Temps en secondes</text>
<text transform="translate(320.3,1553.5) rotate(-90)" text-anchor="middle" font-size="35">Unites de sons</text>
</g>
</svg></body></html>
